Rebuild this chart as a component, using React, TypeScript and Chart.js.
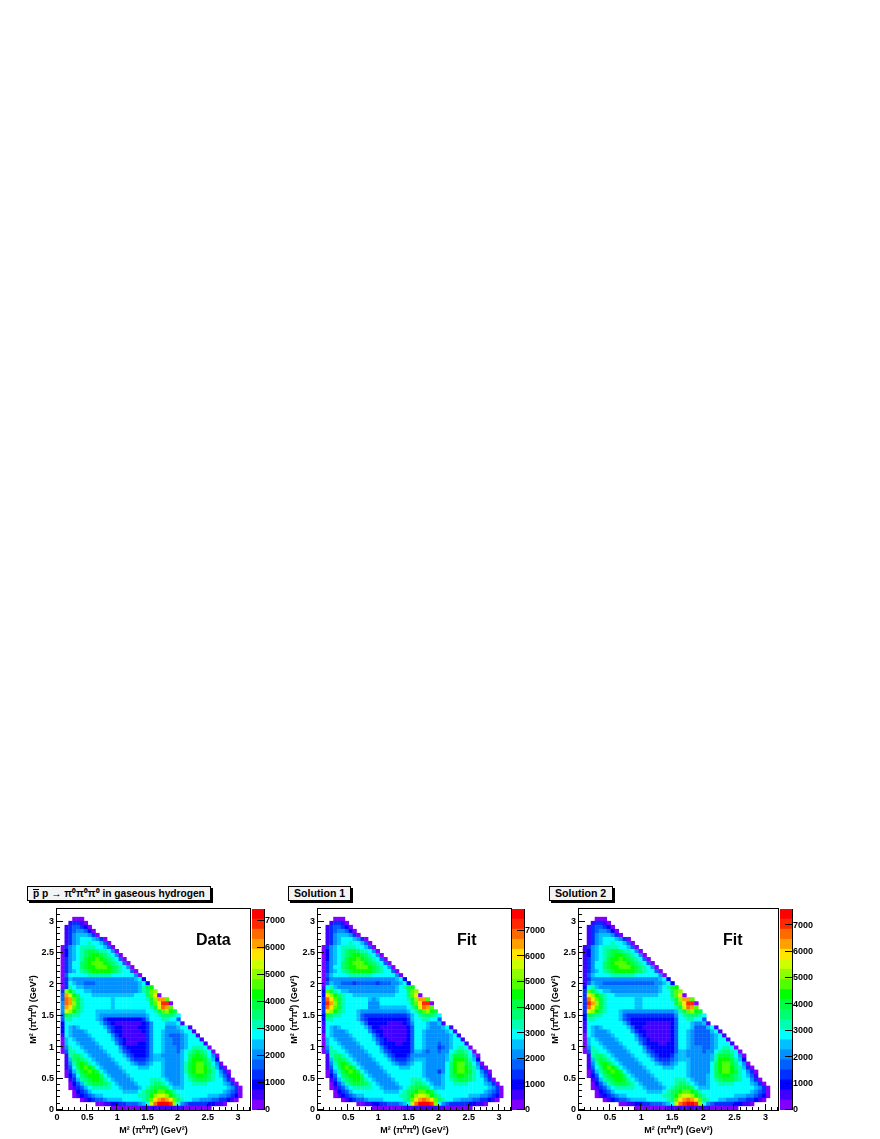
import React, { useEffect, useRef } from "react";
import { Chart, registerables } from "chart.js";

Chart.register(...registerables);

// ---------- data: colour-band index per 0.064 GeV^2 bin, top row first (r47 ... r0) ----------
const binWidth = 0.064;
const topRow = 47;

const dataRows = [
  "....000",
  "...13310",
  "..1344320",
  "..13455420",
  "..135666530",
  "..13567776530",
  "..135677877640",
  ".03567888877640",
  ".0256789aa988750",
  ".0256789abba98750",
  ".035678abbcba98740",
  ".035779abcccba98740",
  ".035779abbcccba98750",
  ".0356789abbbbba987740",
  ".047777788888877777750",
  ".0365555555555555555672",
  ".03765544455555555555672",
  ".0387665555555555555568ab",
  ".3db87766555555555555689cd",
  ".4geb9777666666666667779cf0",
  ".4hgca877777776777777778adggc",
  ".5hgda877777776777777777acfii0",
  ".5gfca8777777767777777778aehgc",
  ".5edb987776666666666666778acdba",
  ".4a98877776555555555555677899987",
  ".4887777776532222222223577788774",
  ".27777777776432111111123577766671",
  ".2765677777764322111122357775556771",
  ".27655567777753221111123577655556771",
  ".176555567777753211111135776544456771",
  ".0676555567777643211111357765544567771",
  ".06776555567777532111223577655445677771",
  ".058776555567777532222235776555456788870",
  ".04887765555677764322223577655546789a9870",
  "..189987655556777643222356655555679aba9750",
  "..169a98765555677764333456665555679bbba862",
  "..158aba87655556777654456776555568abcca9750",
  "..1479bcb9765555677776667776555568abccb98630",
  "..0368abcba76555567777777776555568abccba87530",
  "..02479abbb976555567777777765555679abba987641",
  "...13689abba876555567777888765556789aaa9877530",
  "...024689aaa98765555677789987655677888877776530",
  "...0134678888877655556789aaa97666777777777776530",
  "....02346777777776666789abccba877777777777765430",
  "....01234566777777777889bdeedb987777777666554320",
  "......012344566667777789cfghgfc9877665554433210",
  "..........00112233444567ehjjjid7543333322110",
  "..............00000000111111111110000000",
];

const solution1Rows = [
  "....000",
  "...13310",
  "..1344320",
  "..13455420",
  "..135666530",
  "..13567776530",
  "..135677877640",
  ".03567888877640",
  ".0256789aa988750",
  ".0256789abba98750",
  ".025678abbcba98740",
  ".035679abcccba98740",
  ".035779abbcccba98750",
  ".0356789abbbbba987740",
  ".046777788888877777750",
  ".0355555555555555555672",
  ".04655444344444344455672",
  ".1786555555555555555678ab",
  ".2ca87665555555555556779cd",
  ".2fdb9877666666666667779cf0",
  ".3hfca877777765677777778adggc",
  ".3igda877777755577777777acfii0",
  ".3hfca8777777555666666678aehgc",
  ".3edb987776555555555555678acdba",
  ".2a98877776433333333333467899987",
  ".2887777776432222222222367788774",
  ".17777777776422222111123577765561",
  ".1765677777764221111111247776555671",
  ".17655567777753221111112477655555671",
  ".076555567777753211111124776555555671",
  ".0676555567777643211111247765555556771",
  ".06776555567777532221122477655545567771",
  ".058776555567777532222224776555345678870",
  ".0488776555567776432222246654554557899870",
  "..189987655556777643222355555555568aaa9750",
  "..169a98765555677764333456665555568bbba862",
  "..158aba876555567776544567765555579bcca9750",
  "..1479bcb97655556777766677765555579bccb98630",
  "..0368abcba765555677777777765553579bccba87530",
  "..02479abbb976555567777777765555679abba987641",
  "...13689abba876555567777888765556789aaa9877530",
  "...024689aaa98765555677789987655677888877776530",
  "...0134678888877655556789aaa97666777777777776530",
  "....02346777777776666789abccba877777777777765430",
  "....01234566777777777889bdeedb987777777666554320",
  "......012344566667777789cfghgfc9877665554433210",
  "..........00112233444567ehjjjid7543333322110",
  "..............00000000111111111110000000",
];

const solution2Rows = [
  "....000",
  "...13310",
  "..1344320",
  "..13455420",
  "..135666530",
  "..13567776530",
  "..135677877640",
  ".13567888877640",
  ".1256789aa988750",
  ".1256789abba98750",
  ".135678abbcba98740",
  ".135779abcccba98740",
  ".135779abbcccba98750",
  ".1356789abbbbba987740",
  ".146777788888877777750",
  ".1355555555555555555672",
  ".14655444444444444455672",
  ".2786555555555555555678ab",
  ".3ca87665555555555556779cd",
  ".3fdb9877666666666667779cf0",
  ".3hfca877777776677777778adggc",
  ".3igda877777776677777777acfii0",
  ".3hfca8777777766777777778aehgc",
  ".3edb987776555555555555568acdba",
  ".2a98877776433333333333357899987",
  ".2887777776432222222222247788774",
  ".17777777776422221111112477765561",
  ".1765677777764221111111247776444671",
  ".17655567777753221111112477654444671",
  ".076555567777753211111124776544445671",
  ".0676555567777643211111247765444456771",
  ".06776555567777532221122477654444567771",
  ".058776555567777532222224776555445678870",
  ".0488776555567776432222246655554557899870",
  "..189987655556777643222356655555568aaa9750",
  "..169a98765555677764333456665555568bbba862",
  "..158aba876555567776544567765555579bcca9750",
  "..1479bcb97655556777766677765555579bccb98630",
  "..0368abcba765555677777777765555579bccba87530",
  "..02479abbb976555567777777765555679abba987641",
  "...13689abba876555567777888765556789aaa9877530",
  "...024689aaa98765555677789987655677888877776530",
  "...0134678888877655556789aaa97666777777777776530",
  "....02346777777776666789abccba877777777777765430",
  "....01234566777777777889bdeedb987777777666554320",
  "......012344566667777789cfghgfc9877665554433210",
  "..........00112233444567ehijjid7543333322110",
  "..............00000000111111111110000000",
];

const palette = [
  "#8000ff", "#4000ff", "#0000ff", "#0030ff", "#0060ff",
  "#0090ff", "#00c0ff", "#00ffff", "#00ffb0", "#00ff70",
  "#00ff40", "#00ff00", "#50ff00", "#8cff00", "#ccff00",
  "#ffe600", "#ffa000", "#ff6a00", "#ff2800", "#ff0000",
];

const axisMax = 3.2;
const axisStep = 0.1;
const colorMaxima = [7440, 7850, 7610];
const colorTicks = [0, 1000, 2000, 3000, 4000, 5000, 6000, 7000];
const axisLabel = "M\u00B2 (\u03C0\u2070\u03C0\u2070) (GeV\u00B2)";
const annotations = ["Data", "Fit", "Fit"];
const titleTexts = ["", "Solution 1", "Solution 2"];

const fontFamily = '"Liberation Sans", Arial, sans-serif';
const tickFont = { family: fontFamily, size: 9, weight: "bold" as const };

function cellsFrom(rows: string[]) {
  const cells: { x: number; y: [number, number] }[] = [];
  const colors: string[] = [];
  rows.forEach((row, i) => {
    const r = topRow - i;
    for (let c = 0; c < row.length; c++) {
      if (row[c] === ".") continue;
      const level = parseInt(row[c], 36);
      cells.push({ x: (c + 0.5) * binWidth, y: [r * binWidth, (r + 1) * binWidth] });
      colors.push(palette[level]);
    }
  });
  return { cells, colors };
}

const zeroPadding = (s: any) => {
  s.paddingTop = 0;
  s.paddingBottom = 0;
  s.paddingLeft = 0;
  s.paddingRight = 0;
};

const framePlugin = {
  id: "rootFrame",
  afterDatasetsDraw(chart: any) {
    const { ctx, chartArea: a, scales } = chart;
    ctx.save();
    ctx.strokeStyle = "#000";
    ctx.lineWidth = 1;
    ctx.strokeRect(Math.round(a.left) - 0.5, Math.round(a.top) - 0.5, Math.round(a.right - a.left) + 1, Math.round(a.bottom - a.top) + 1);
    ctx.beginPath();
    for (const t of scales.x.ticks) {
      const p = Math.round(scales.x.getPixelForValue(t.value)) - 0.5;
      const major = Math.round(t.value * 10) % 5 === 0;
      ctx.moveTo(p, a.bottom);
      ctx.lineTo(p, a.bottom - (major ? 6 : 3));
    }
    for (const t of scales.y.ticks) {
      const p = Math.round(scales.y.getPixelForValue(t.value)) - 0.5;
      const major = Math.round(t.value * 10) % 5 === 0;
      ctx.moveTo(a.left, p);
      ctx.lineTo(a.left + (major ? 6 : 3), p);
    }
    ctx.stroke();
    ctx.restore();
  },
};

const barFramePlugin = {
  id: "barFrame",
  afterDatasetsDraw(chart: any) {
    const { ctx, chartArea: a, scales } = chart;
    ctx.save();
    ctx.strokeStyle = "#000";
    ctx.lineWidth = 1;
    ctx.beginPath();
    ctx.moveTo(a.right + 0.5, a.top);
    ctx.lineTo(a.right + 0.5, a.bottom);
    for (const t of scales.y.ticks) {
      const p = Math.round(scales.y.getPixelForValue(t.value)) - 0.5;
      ctx.moveTo(a.right, p);
      ctx.lineTo(a.right - 7, p);
    }
    ctx.stroke();
    ctx.restore();
  },
};

const tickText = (v: any) => (Math.round(Number(v) * 10) % 5 === 0 ? String(+Number(v).toFixed(1)) : "");

function Panel({ rows, plotLeft, plotWidth }: { rows: string[]; plotLeft: number; plotWidth: number }) {
  const ref = useRef<HTMLCanvasElement>(null);
  useEffect(() => {
    const { cells, colors } = cellsFrom(rows);
    const chart = new Chart(ref.current as HTMLCanvasElement, {
      type: "bar",
      data: {
        datasets: [
          {
            data: cells as any,
            backgroundColor: colors,
            borderWidth: 0,
            grouped: false,
            barPercentage: 1,
            categoryPercentage: 1,
            inflateAmount: 0.2,
          } as any,
        ],
      },
      options: {
        animation: false,
        responsive: false,
        layout: { padding: { top: 4, right: 1, left: 0, bottom: 0 } },
        plugins: { legend: { display: false }, tooltip: { enabled: false }, title: { display: false } },
        scales: {
          x: {
            type: "linear",
            min: 0,
            max: axisMax,
            offset: false,
            afterFit: (s: any) => { s.height = 29; zeroPadding(s); },
            grid: { display: false, drawTicks: false },
            border: { display: false },
            ticks: { stepSize: axisStep, autoSkip: false, includeBounds: false, maxRotation: 0, padding: 2, font: tickFont, color: "#000", callback: tickText },
            title: { display: true, text: axisLabel, color: "#000", font: { family: fontFamily, size: 9, weight: "bold" }, padding: { top: 1, bottom: 3 } },
          },
          y: {
            type: "linear",
            min: 0,
            max: axisMax,
            afterFit: (s: any) => { s.width = 35; zeroPadding(s); },
            grid: { display: false, drawTicks: false },
            border: { display: false },
            ticks: { stepSize: axisStep, autoSkip: false, includeBounds: false, padding: 3, font: tickFont, color: "#000", callback: tickText },
            title: { display: true, text: axisLabel, color: "#000", font: { family: fontFamily, size: 9, weight: "bold" }, padding: { top: 6, bottom: 0 } },
          },
        },
      } as any,
      plugins: [framePlugin],
    });
    return () => chart.destroy();
  }, [rows]);
  return (
    <canvas
      ref={ref}
      width={35 + plotWidth + 1}
      height={234}
      style={{ position: "absolute", left: plotLeft - 35, top: 905, display: "block" }}
    />
  );
}

function ColorBar({ max, left }: { max: number; left: number }) {
  const ref = useRef<HTMLCanvasElement>(null);
  useEffect(() => {
    const step = max / palette.length;
    const chart = new Chart(ref.current as HTMLCanvasElement, {
      type: "bar",
      data: {
        labels: [""],
        datasets: palette.map((color, i) => ({
          data: [[i * step, (i + 1) * step]] as any,
          backgroundColor: color,
          borderWidth: 0,
          grouped: false,
          barPercentage: 1,
          categoryPercentage: 1,
          inflateAmount: 0.3,
        })) as any,
      },
      options: {
        animation: false,
        responsive: false,
        layout: { padding: { top: 4, right: 0, left: 0, bottom: 29 } },
        plugins: { legend: { display: false }, tooltip: { enabled: false } },
        scales: {
          x: { display: false },
          y: {
            position: "right",
            min: 0,
            max,
            afterBuildTicks: (s: any) => { s.ticks = colorTicks.map((value) => ({ value })); },
            afterFit: (s: any) => { s.width = 28; zeroPadding(s); },
            grid: { display: false, drawTicks: false },
            border: { display: false },
            ticks: { autoSkip: false, padding: 1, font: tickFont, color: "#000", callback: (v: any) => String(v) },
          },
        },
      } as any,
      plugins: [barFramePlugin],
    });
    return () => chart.destroy();
  }, [max]);
  return (
    <canvas
      ref={ref}
      width={40}
      height={234}
      style={{ position: "absolute", left, top: 905, display: "block" }}
    />
  );
}

const boxStyle = (left: number, width: number, size: number): React.CSSProperties => ({
  position: "absolute",
  left,
  top: 886,
  width,
  height: 13,
  boxSizing: "content-box",
  border: "1px solid #000",
  boxShadow: "2px 2px 0 #000",
  background: "#f4f4f4",
  font: `bold ${size}px ${fontFamily}`,
  lineHeight: "13px",
  paddingLeft: 5,
  color: "#000",
  whiteSpace: "nowrap",
});

const noteStyle = (left: number): React.CSSProperties => ({
  position: "absolute",
  left,
  top: 931,
  font: `bold 16px ${fontFamily}`,
  lineHeight: "18px",
  color: "#000",
});

export default function App() {
  return (
    <div style={{ position: "absolute", left: 0, top: 0, width: 880, height: 1139, background: "#fff", overflow: "hidden" }}>
      <div style={boxStyle(27, 177, 10.2)}>
        <span style={{ display: "inline-block", lineHeight: "7px", borderTop: "1px solid #000" }}>p</span> p {"\u2192 \u03C0\u2070\u03C0\u2070\u03C0\u2070"} in gaseous hydrogen
      </div>
      <div style={boxStyle(288, 56, 10.6)}>{titleTexts[1]}</div>
      <div style={boxStyle(549, 57, 10.6)}>{titleTexts[2]}</div>

      <Panel rows={dataRows} plotLeft={57} plotWidth={193} />
      <ColorBar max={colorMaxima[0]} left={252} />
      <Panel rows={solution1Rows} plotLeft={318} plotWidth={193} />
      <ColorBar max={colorMaxima[1]} left={512} />
      <Panel rows={solution2Rows} plotLeft={579} plotWidth={199} />
      <ColorBar max={colorMaxima[2]} left={780} />

      <div style={noteStyle(196)}>{annotations[0]}</div>
      <div style={noteStyle(457)}>{annotations[1]}</div>
      <div style={noteStyle(723)}>{annotations[2]}</div>
    </div>
  );
}
